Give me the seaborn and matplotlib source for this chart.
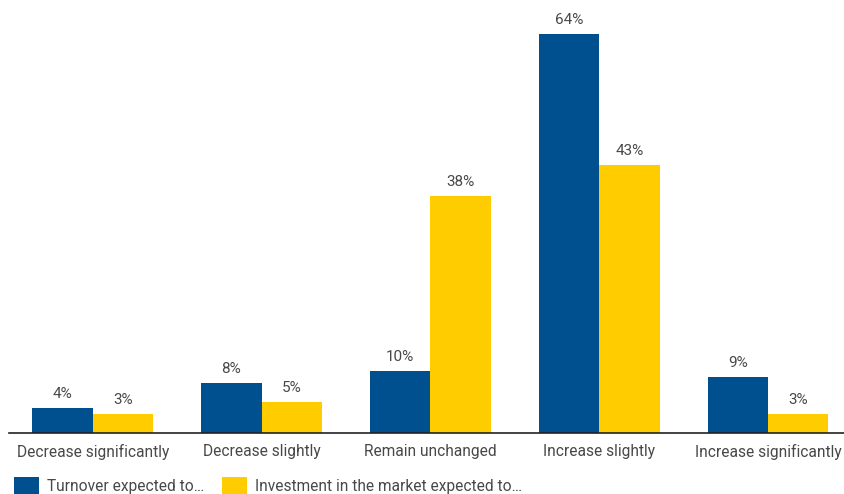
import matplotlib
matplotlib.use("Agg")
import matplotlib.pyplot as plt
from matplotlib.patches import Patch
import seaborn as sns
import pandas as pd

categories = ["Decrease significantly", "Decrease slightly", "Remain unchanged",
              "Increase slightly", "Increase significantly"]
series_names = ["Turnover expected to…", "Investment in the market expected to…"]
turnover = [4, 8, 10, 64, 9]
investment = [3, 5, 38, 43, 3]

colors = ["#00508F", "#FFCC00"]
text_color = "#484848"

df = pd.DataFrame({
    "category": categories * 2,
    "series": [series_names[0]] * len(categories) + [series_names[1]] * len(categories),
    "value": turnover + investment,
})

sns.set_theme(style="white")
plt.rcParams["font.family"] = ["Roboto", "DejaVu Sans"]

fig = plt.figure(figsize=(8.44, 4.94), dpi=100)
ax = fig.add_axes([9 / 844, 61 / 494, 835 / 844, 423 / 494])

sns.barplot(data=df, x="category", y="value", hue="series", order=categories,
            hue_order=series_names, palette=colors, width=0.716, gap=0,
            saturation=1, ax=ax, legend=False, linewidth=0)

for cont in ax.containers:
    ax.bar_label(cont, fmt="%d%%", padding=5, fontsize=11, color=text_color)

ax.set_xlim(-0.497, 4.45)
ax.set_ylim(0, 423 / 6.234)
ax.set_xlabel("")
ax.set_ylabel("")
ax.set_yticks([])
for side in ["top", "left", "right"]:
    ax.spines[side].set_visible(False)
ax.spines["bottom"].set_color("#222222")
ax.spines["bottom"].set_linewidth(1.2)
ax.tick_params(axis="x", length=0, pad=8, labelsize=11.2, labelcolor=text_color)

handles = [Patch(facecolor=c, edgecolor="none") for c in colors]
fig.legend(handles, series_names, loc="lower left", bbox_to_anchor=(0.0, -0.03),
           ncol=2, frameon=False, fontsize=11.2, labelcolor=text_color,
           handlelength=1.6, handleheight=1.4, handletextpad=0.55, columnspacing=1.1)

fig.savefig("out.png", dpi=100)
